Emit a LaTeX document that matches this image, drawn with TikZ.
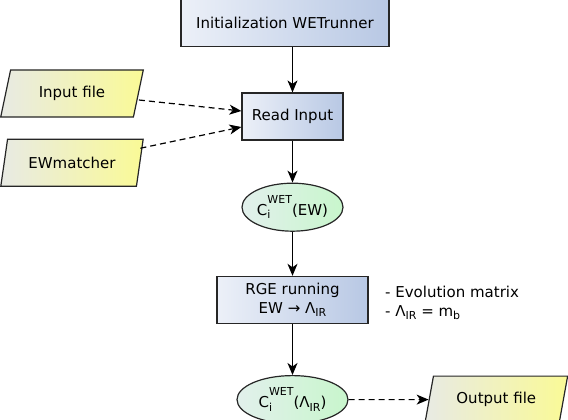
\documentclass[tikz,border=0pt]{standalone}
\usepackage{fontspec}
\setmainfont{DejaVu Sans}
\usetikzlibrary{positioning,shapes.geometric,arrows.meta}
\definecolor{boxleft}{RGB}{236,240,248}
\definecolor{boxright}{RGB}{184,200,228}
\definecolor{ioleft}{RGB}{232,234,228}
\definecolor{ioright}{RGB}{250,250,150}
\definecolor{coefleft}{RGB}{226,240,236}
\definecolor{coefright}{RGB}{200,246,204}
\newcommand{\lowidx}[1]{\raisebox{-3.5pt}{\fontsize{11}{13}\selectfont #1}}
\newcommand{\wetcoef}[1]{C\rlap{\lowidx{i}}\raisebox{12pt}{\fontsize{11}{13}\selectfont WET}(#1)}
\tikzset{
  process/.style={draw=black!85, line width=1.2pt, left color=boxleft, right color=boxright,
    align=center, minimum height=47pt, inner sep=2pt},
  coef/.style={ellipse, draw=black!85, line width=1.2pt, left color=coefleft, right color=coefright,
    minimum width=101pt, minimum height=48pt, inner sep=0pt},
  iofile/.style={trapezium, trapezium left angle=73, trapezium right angle=107,
    trapezium stretches=true, draw=black!85, line width=1.2pt, left color=ioleft, right color=ioright,
    minimum width=143pt, minimum height=47pt, inner sep=2pt},
  flow/.style={->, line width=1.2pt},
  feed/.style={flow, dash pattern=on 6pt off 4pt}
}
\begin{document}
\begin{tikzpicture}[font=\fontsize{15}{19}\selectfont,
  >={Stealth[length=12pt,width=10pt,inset=3.5pt]}]
  \useasboundingbox (0,0) rectangle (568pt,-420pt);
  % main chain
  \node[process, minimum width=101pt] (read) at (292.5pt,-116.5pt) {Read Input};
  \node[process, minimum width=208pt, above=45pt of read, xshift=-7.5pt] (init) {Initialization WETrunner};
  \node[coef, below=42pt of read] (ewcoef) {\wetcoef{EW}};
  \node[process, minimum width=151pt, below=44pt of ewcoef] (rge) {RGE running\\EW → Λ\lowidx{IR}};
  \node[coef, minimum width=111pt, below=51pt of rge] (ircoef) {\wetcoef{Λ\lowidx{IR}}};
  % files
  \node[iofile] (input) at (72pt,-93.5pt) {Input file};
  \node[iofile, below=21pt of input] (ewmatch) {EWmatcher};
  \node[iofile, right=80pt of ircoef] (output) {Output file};
  \node[anchor=west, align=left, inner sep=0pt] (evolnote) at (385pt,-303pt)
    {- Evolution matrix\\- Λ\lowidx{IR} = m\lowidx{b}};

  \draw[flow] (init.south -| read) -- (read);
  \draw[flow] (read) -- (ewcoef);
  \draw[flow] (ewcoef) -- (rge);
  \draw[flow] (rge) -- (ircoef);
  \draw[feed] ([yshift=-6.5pt]input.east) -- ([yshift=5.5pt]read.west);
  \draw[feed] ([yshift=14.5pt]ewmatch.east) -- ([yshift=-10.5pt]read.west);
  \draw[feed] (ircoef) -- (output);
\end{tikzpicture}
\end{document}
